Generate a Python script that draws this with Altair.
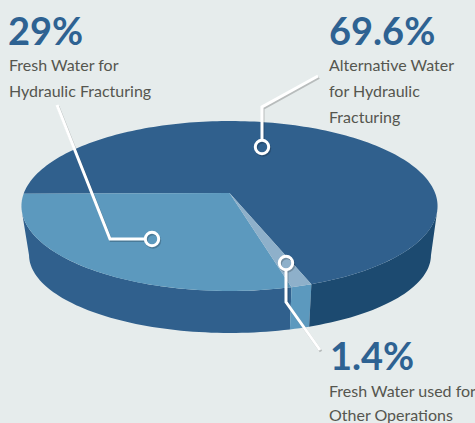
import math
import altair as alt

# Shares of water use, in the order they run around the disc
labels = ["Fresh Water for Hydraulic Fracturing", "Fresh Water used for Other Operations", "Alternative Water for Hydraulic Fracturing"]
shares = [29.0, 1.4, 69.6]

TOP_COLORS = ["#5c99be", "#8eb0ca", "#30608d"]
WALL_COLORS = ["#30608d", "#5c99be", "#1c4a70"]

# Projected disc: a circle seen in perspective, near edge drawn larger
TILT = 0.153
TOP = dict(cx=229.5, cy=193.0, rx=205.6, ry=83.0)
BOTTOM = dict(cx=230.0, cy=243.0, rx=198.6, ry=76.2)
START_DEG = 179.5  # slices run from the left edge through the front

# Rim angles where the outline of the drum leaves each ring
TOP_LEFT, BOTTOM_LEFT = 168.0, 171.0
TOP_RIGHT, BOTTOM_RIGHT = 12.0, 9.0


def rim(ring, deg):
    a = math.radians(deg)
    w = 1 - TILT * math.sin(a)
    return [ring["cx"] + ring["rx"] * math.cos(a) / w, ring["cy"] + ring["ry"] * math.sin(a) / w]


def arc_degs(a, b):
    n = max(2, int(abs(b - a) / 1.5) + 1)
    return [a + (b - a) * i / n for i in range(n + 1)]


def feature(coords, part):
    return {"type": "Feature", "properties": {"part": part},
            "geometry": {"type": "Polygon", "coordinates": [coords + [coords[0]]]}}


bounds = [START_DEG]
for s in shares:
    bounds.append(bounds[-1] - s * 3.6)

features = []
# side walls come first so the top surface overlaps them
wall_spans = [
    ((TOP_LEFT, bounds[1]), (BOTTOM_LEFT, bounds[1])),
    ((bounds[1], bounds[2]), (bounds[1], bounds[2])),
    ((bounds[2], TOP_RIGHT), (bounds[2], BOTTOM_RIGHT)),
]
for i, (upper, lower) in enumerate(wall_spans):
    pts = [rim(TOP, d) for d in arc_degs(*upper)] + [rim(BOTTOM, d) for d in reversed(arc_degs(*lower))]
    features.append(feature(pts, f"wall{i}"))
# top surface, one wedge per share, largest underneath
for i in (2, 0, 1):
    degs = arc_degs(bounds[i], bounds[i + 1])
    pts = [[TOP["cx"], TOP["cy"]]] + [rim(TOP, d) for d in degs]
    features.append(feature(pts, f"top{i}"))

parts = [f"wall{i}" for i in range(3)] + [f"top{i}" for i in range(3)]
part_colors = WALL_COLORS + TOP_COLORS

W, H = 475, 423
x_scale = alt.Scale(domain=[0, W], nice=False, zero=False)
y_scale = alt.Scale(domain=[0, H], reverse=True, nice=False, zero=False)

disc = alt.Chart(alt.Data(values=features)).mark_geoshape().encode(
    color=alt.Color("properties.part:N", scale=alt.Scale(domain=parts, range=part_colors), legend=None),
).project(type="identity", scale=1, translate=[0, 0])

# Leader lines: one polyline per callout
leaders = {
    "a": [(57, 105), (110, 239), (145, 239)],
    "b": [(262, 140), (262, 107), (318, 76)],
    "c": [(286, 270), (286, 302), (320, 350)],
}
leader_rows = [
    {"id": k, "i": i, "x": p[0], "y": p[1]}
    for k, pts in leaders.items() for i, p in enumerate(pts)
]
ring_rows = [{"x": 152, "y": 239}, {"x": 262, "y": 147}, {"x": 286, "y": 263}]


def xy():
    return dict(x=alt.X("x:Q", scale=x_scale, axis=None), y=alt.Y("y:Q", scale=y_scale, axis=None))


def nudged(rows):
    # soft drop shadow sits just below and right of the white strokes
    return [dict(r, x=r["x"] + 1, y=r["y"] + 1.5) for r in rows]


shadow = alt.Chart(alt.Data(values=nudged(leader_rows))).mark_line(
    color="#000000", opacity=0.2, strokeWidth=3, strokeJoin="miter"
).encode(detail="id:N", order="i:Q", **xy())
lines = alt.Chart(alt.Data(values=leader_rows)).mark_line(
    color="#ffffff", strokeWidth=3, strokeJoin="miter"
).encode(detail="id:N", order="i:Q", **xy())
ring_shadow = alt.Chart(alt.Data(values=nudged(ring_rows))).mark_point(
    shape="circle", filled=False, size=180, stroke="#000000", opacity=0.2, strokeWidth=3
).encode(**xy())
rings = alt.Chart(alt.Data(values=ring_rows)).mark_point(
    shape="circle", filled=False, size=180, stroke="#ffffff", opacity=1, strokeWidth=3
).encode(**xy())

FONT = "Lato"
headlines = [
    {"t": "29%", "x": 8, "y": 45},
    {"t": "69.6%", "x": 329, "y": 45},
    {"t": "1.4%", "x": 330, "y": 370},
]
notes = [
    {"t": "Fresh Water for", "x": 9, "y": 71},
    {"t": "Hydraulic Fracturing", "x": 9, "y": 97},
    {"t": "Alternative Water", "x": 329, "y": 71},
    {"t": "for Hydraulic", "x": 329, "y": 97},
    {"t": "Fracturing", "x": 329, "y": 123},
    {"t": "Fresh Water used for", "x": 329, "y": 397},
    {"t": "Other Operations", "x": 329, "y": 421},
]
head_text = alt.Chart(alt.Data(values=headlines)).mark_text(
    font=FONT, fontWeight="bold", fontSize=38, color="#2e6292", align="left", baseline="alphabetic"
).encode(text="t:N", **xy())
note_text = alt.Chart(alt.Data(values=notes)).mark_text(
    font=FONT, fontSize=16, color="#55564f", align="left", baseline="alphabetic"
).encode(text="t:N", **xy())

chart = alt.layer(disc, shadow, ring_shadow, lines, rings, head_text, note_text).properties(
    width=W, height=H, padding=0, background="#e6ecec",
    autosize=alt.AutoSizeParams(type="none"),
).configure_view(strokeWidth=0)

chart.save("out.html", embed_options={"renderer": "svg", "actions": False})
